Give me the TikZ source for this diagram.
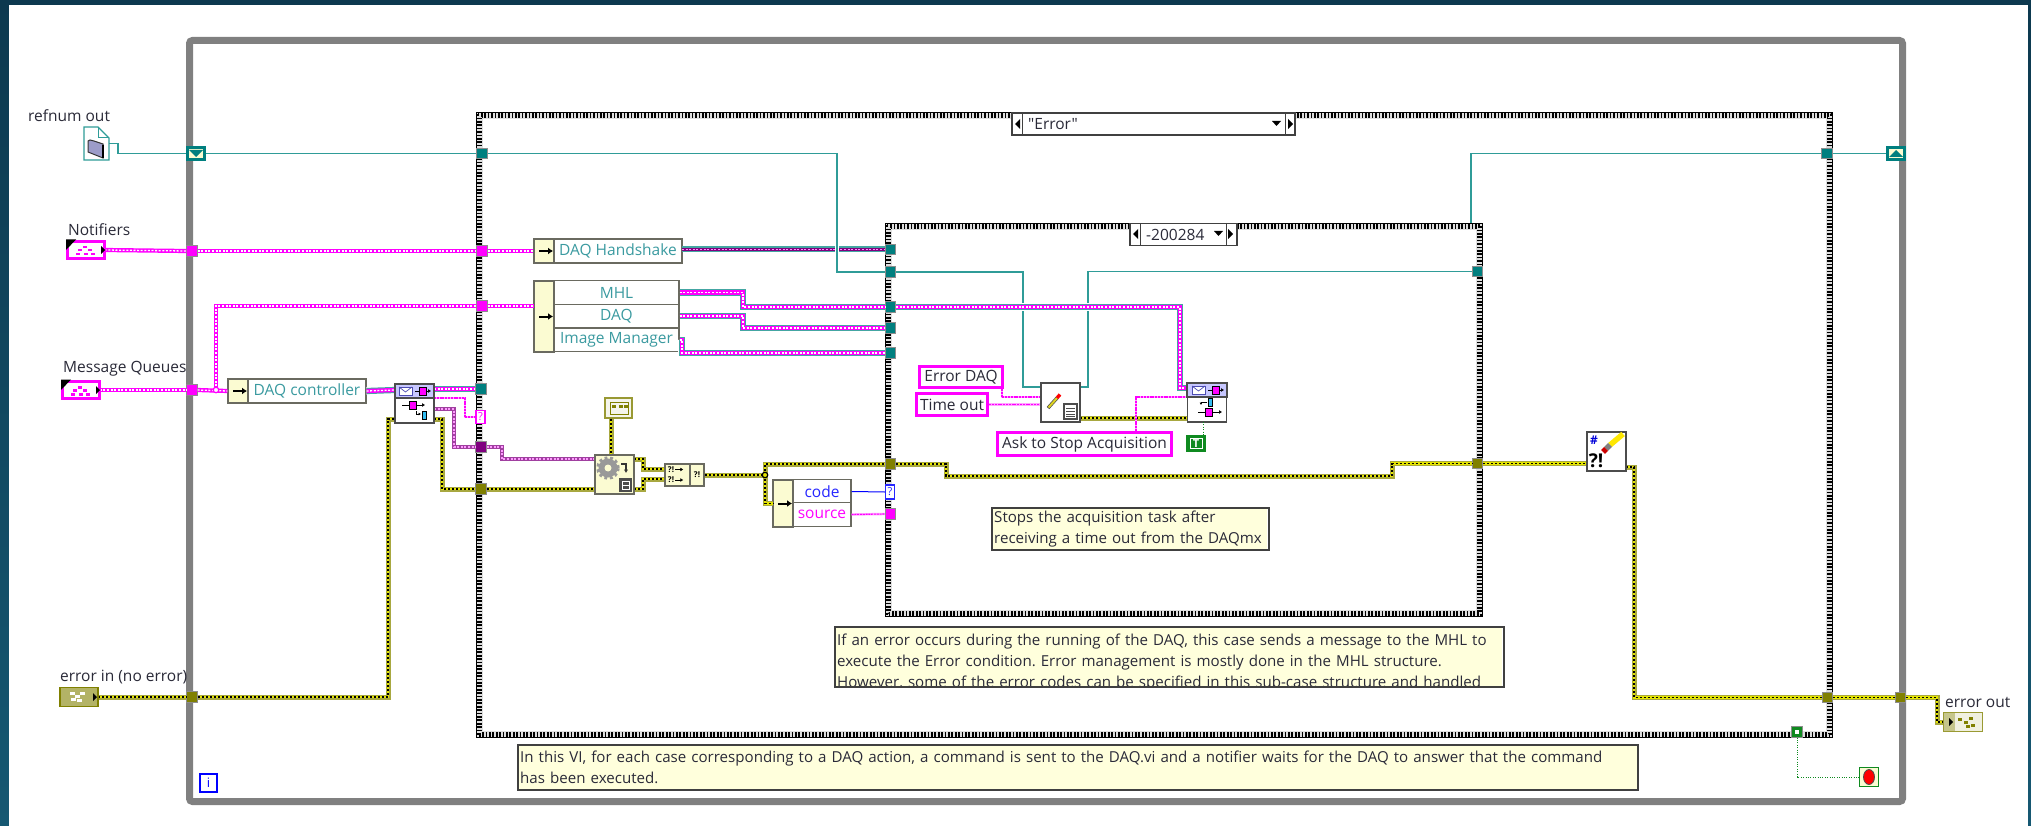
\documentclass[tikz,border=0pt]{standalone}
\usepackage{fontspec}
\setmainfont{Open Sans}[Ligatures=TeXOff]
\usetikzlibrary{arrows.meta}
\definecolor{loopgray}{HTML}{808080}
\definecolor{refteal}{HTML}{2F9C98}
\definecolor{tealfill}{HTML}{007F7F}
\definecolor{tealtext}{HTML}{3A9AA0}
\definecolor{lvpink}{HTML}{FF00FF}
\definecolor{lvpurple}{HTML}{800080}
\definecolor{lvolive}{HTML}{808000}
\definecolor{wireyel}{HTML}{E6E600}
\definecolor{wireedge}{HTML}{A8A840}
\definecolor{paleyel}{HTML}{FBFBD2}
\definecolor{notefill}{HTML}{FFFFDC}
\definecolor{boxedge}{HTML}{6A6A60}
\definecolor{textdark}{HTML}{2A2A38}
\definecolor{lvgreen}{HTML}{0F8A20}
\begin{document}
\frenchspacing
\begin{tikzpicture}[
  x=1pt, y=-1pt,
  refwire/.style={draw=refteal, line width=1.3pt},
  halowire/.style={refwire, preaction={draw=white, line width=4.5pt}},
  errwire/.style={draw=black, line width=1.8pt, dash pattern=on 2pt off 2pt,
    preaction={draw=wireedge, solid, line width=5pt},
    preaction={draw=wireyel, solid, line width=2.8pt}},
  pinkwire/.style={draw=white, line width=1.3pt, dash pattern=on 2pt off 1.6pt,
    preaction={draw=lvpink, solid, line width=4.2pt}},
  purpwire/.style={draw=white!60!lvpink, line width=1.1pt, dash pattern=on 2pt off 1.6pt,
    preaction={draw=lvpurple!75, solid, line width=4.2pt}},
  quwire/.style={draw=white, line width=1.3pt, dash pattern=on 2pt off 1.6pt,
    preaction={draw=white, solid, line width=8pt},
    preaction={draw=refteal!90, solid, line width=6.2pt},
    preaction={draw=lvpink, solid, line width=4.2pt}},
  hswire/.style={draw=white!55!lvpink, line width=1pt, dash pattern=on 2pt off 1.6pt,
    preaction={draw=refteal!90, solid, line width=6pt},
    preaction={draw=lvpurple, solid, line width=3.6pt}},
  strwire/.style={draw=lvpink, line width=1.1pt, dash pattern=on 2pt off .8pt,
    preaction={draw=lvpink!35, solid, line width=2.4pt}},
  boolwire/.style={draw=lvgreen, line width=.9pt, dash pattern=on 1pt off 1.4pt},
  tunnel/.style={rectangle, draw=loopgray!90, line width=.8pt, inner sep=0pt, minimum width=10.5pt, minimum height=10.5pt},
  cellbox/.style={rectangle, draw=boxedge, line width=1.2pt, inner sep=0pt, fill=paleyel},
  namebox/.style={rectangle, draw=boxedge, line width=1.2pt, inner sep=0pt, fill=white, font=\fontsize{15.5}{17}\selectfont, text=tealtext},
  iconbox/.style={rectangle, draw=black!70, line width=1.3pt, inner sep=0pt, fill=white, minimum width=39pt, minimum height=39pt},
  strconst/.style={rectangle, draw=lvpink, line width=3.4pt, inner sep=0pt, fill=white, text=textdark, font=\fontsize{15.5}{17}\selectfont},
  lbl/.style={font=\fontsize{15.5}{17}\selectfont, text=textdark, inner sep=0pt},
  note/.style={rectangle, fill=notefill, inner sep=0pt, align=left, text=textdark, font=\fontsize{15.1}{21}\selectfont},
  notebd/.style={draw=black!75, line width=1.2pt},
  cellarrow/.style={-{Latex[length=5pt,width=7pt]}, line width=2pt, black},
  tinyarrow/.style={-{Latex[length=3pt,width=4pt]}, line width=.9pt, black},
  queuebit/.style={rectangle, draw=black, fill=lvpink, line width=.7pt, inner sep=0pt},
  junct/.style={circle, inner sep=0pt, minimum size=5.5pt, line width=1.2pt}
]
\useasboundingbox (0,0) rectangle (2031,826);
\shade[top color={rgb,255:red,13;green,57;blue,79}, bottom color={rgb,255:red,22;green,88;blue,114}] (0,0) rectangle (2031,826);
\fill[white] (9,5) rectangle (2028,826);

\draw[loopgray, line width=7pt, rounded corners=3pt] (189.5,40.5) rectangle (1902.5,801.5);
\foreach \xa/\ya/\xb/\yb in {476/112/1833/738, 885/223/1483/617} {
  \draw[gray!25, line width=7pt] (\xa+3.5,\ya+3.5) rectangle (\xb-3.5,\yb-3.5);
  \draw[black, line width=1.7pt, dash pattern=on 1.7pt off 1.7pt] (\xa+2.2,\ya+2.2) rectangle (\xb-2.2,\yb-2.2);
  \draw[black, line width=1.7pt, dash pattern=on 1.7pt off 1.7pt, dash phase=1.7pt] (\xa+3.9,\ya+3.9) rectangle (\xb-3.9,\yb-3.9);
  \draw[black, line width=1.7pt, dash pattern=on 1.7pt off 1.7pt] (\xa+5.6,\ya+5.6) rectangle (\xb-5.6,\yb-5.6);
  \draw[black, line width=1.3pt] (\xa+.6,\ya+.6) rectangle (\xb-.6,\yb-.6);
}

\node[lbl, anchor=west] (lblRef) at (28,116) {refnum out};
\node[lbl, anchor=west] (lblNot) at (68,230) {Notifiers};
\node[lbl, anchor=west] (lblQue) at (63,369) {Message Queues};
\node[lbl, anchor=west] (lblErrIn) at (60,677) {error in (no error)};
\node[lbl, anchor=west] (lblErrOut) at (1945,702) {error out};

\node[inner sep=0pt, minimum width=25pt, minimum height=33pt] (refnum) at (96.5,143.5) {};
\draw[refteal, line width=1.2pt, fill=white] (84,127) -- (98,127) -- (109,138) -- (109,160) -- (84,160) -- cycle;
\draw[refteal, line width=1pt] (98,127) -- (98,138) -- (109,138);
\draw[black!80, fill=blue!30!gray!60, line width=1pt] (88,141) -- (90,140) -- (94,141) -- (103,144) -- (103,158) -- (88,152) -- cycle;
\draw[black, line width=1.5pt] (103,145) -- (103,158);

\node[rectangle, inner sep=0pt, minimum width=37pt, minimum height=17pt] (ctlNot) at (86,250) {};
\node[rectangle, inner sep=0pt, minimum width=37pt, minimum height=17pt] (ctlQue) at (81,390) {};
\node[rectangle, inner sep=0pt, minimum width=38pt, minimum height=19pt] (errIn) at (79,697) {};
\node[rectangle, inner sep=0pt, minimum width=39pt, minimum height=19pt] (errOut) at (1963,722) {};

\node[cellbox, minimum width=20pt, minimum height=24pt] (hsArrow) at (544,251) {};
\node[namebox, minimum width=128pt, minimum height=24pt] (hsName) at (618,251) {DAQ Handshake};
\node[cellbox, minimum width=20pt, minimum height=71pt] (ubqArrow) at (544,316.5) {};
\node[namebox, minimum width=125pt, minimum height=23.5pt] (rowMHL) at (616.5,292.5) {MHL};
\node[namebox, minimum width=125pt, minimum height=23.5pt] (rowDAQ) at (616.5,316) {DAQ};
\node[namebox, minimum width=125pt, minimum height=23.5pt] (rowImg) at (616.5,340) {Image Manager};
\node[cellbox, minimum width=20pt, minimum height=24pt] (dcArrow) at (238,391) {};
\node[namebox, minimum width=118pt, minimum height=24pt] (dcName) at (307,391) {DAQ controller};
\node[cellbox, minimum width=20pt, minimum height=47pt] (ubeArrow) at (783,503.5) {};
\node[namebox, minimum width=58pt, minimum height=23.5pt, text=blue!85!white] (rowCode) at (822,491.5) {code};
\node[namebox, minimum width=58pt, minimum height=23.5pt, text=lvpink] (rowSrc) at (822,514.5) {source};
\foreach \aname in {hsArrow, ubqArrow, dcArrow, ubeArrow} {
  \draw[cellarrow] ([xshift=3pt]\aname.center) ++(-8,0) -- ++(14,0);
}

\coordinate (ubqIn) at (534,306);
\coordinate (hsOut) at (682,249.5);
\coordinate (mqJoin) at (216,390);
\coordinate (deqQ) at (434,389);
\coordinate (deqS) at (434,398);
\coordinate (deqP) at (434,409);
\coordinate (deqE) at (434,419);
\coordinate (deqIn) at (395,390);
\coordinate (deqEin) at (395,419);
\coordinate (gearP) at (595,459);
\coordinate (gearE) at (595,489);
\coordinate (gearA) at (634,459);
\coordinate (gearB) at (634,489);
\coordinate (mergeA) at (665,469);
\coordinate (mergeB) at (665,479);
\coordinate (errJoin) at (765,475);
\coordinate (ubeIn) at (773,503.5);
\coordinate (wrRefA) at (1041,387);
\coordinate (wrRefB) at (1080,387);
\coordinate (wrStrA) at (1041,397);
\coordinate (wrStrB) at (1041,404.5);
\coordinate (wrErr) at (1080,418);
\coordinate (enqQ) at (1187,388);
\coordinate (enqS) at (1187,397);
\coordinate (enqE) at (1187,418);
\coordinate (enqB) at (1203,422);
\coordinate (askOut) at (1136,431);
\coordinate (edOut) at (1002,389);
\coordinate (innerTop) at (1471,223);
\coordinate (clearIn) at (1587,463.5);
\coordinate (clearOut) at (1626,467);
\coordinate (gearTop) at (611,455);

\node[tunnel, fill=lvpink] (tNotA) at (192,251) {};
\node[tunnel, fill=lvpink] (tNotB) at (482,251) {};
\node[tunnel, fill=lvpink] (tQueB) at (482,306) {};
\node[tunnel, fill=lvpink] (tQueA) at (192,390) {};
\node[tunnel, fill=tealfill] (tRefOut) at (482,153.5) {};
\node[tunnel, fill=tealfill] (tRefIn) at (890.5,272) {};
\node[tunnel, fill=tealfill] (tHS) at (890.5,249.5) {};
\node[tunnel, fill=tealfill] (tMHL) at (890.5,307) {};
\node[tunnel, fill=tealfill] (tDAQ) at (890.5,328) {};
\node[tunnel, fill=tealfill] (tImg) at (890.5,353) {};
\node[tunnel, fill=tealfill] (tDeqQ) at (481,389) {};
\node[tunnel, fill=lvpurple] (tPurp) at (481,447) {};
\node[tunnel, fill=lvolive] (tErr) at (481,489) {};
\node[tunnel, fill=lvolive] (tErrIn) at (192,697) {};
\node[tunnel, fill=lvolive] (tErrA) at (890.5,464) {};
\node[tunnel, fill=lvolive] (tErrB) at (1477.5,463.5) {};
\node[tunnel, fill=lvolive] (tErrC) at (1827.5,697.5) {};
\node[tunnel, fill=lvolive] (tErrD) at (1900.5,697.5) {};
\node[tunnel, fill=lvpink] (tSrc) at (890.5,514) {};
\node[tunnel, fill=tealfill] (tRefBack) at (1477.5,271.5) {};
\node[tunnel, fill=tealfill] (tRefTop) at (1827,153.5) {};
\node[tunnel, fill=lvgreen] (tBool) at (1797,732) {};
\fill[white] (1795,730) rectangle (1799,734);
\node[rectangle, draw=lvpink, line width=1.3pt, fill=white, inner sep=0pt, minimum width=9pt, minimum height=13pt, text=lvpink, font=\fontsize{11}{12}\selectfont] (tStrQ) at (480.5,417) {?};
\node[rectangle, draw=blue!85!white, line width=1.3pt, fill=white, inner sep=0pt, minimum width=9pt, minimum height=14pt, text=blue!85!white, font=\fontsize{11}{12}\selectfont] (tCode) at (890,492) {?};

\node[rectangle, draw=tealfill, line width=2.6pt, fill=paleyel, inner sep=0pt, minimum width=17pt, minimum height=11.5pt] (srLeft) at (196,153.5) {};
\fill[tealfill] (189,150) -- (203,150) -- (196,157) -- cycle;
\node[rectangle, draw=tealfill, line width=2.6pt, fill=paleyel, inner sep=0pt, minimum width=17pt, minimum height=11.5pt] (srRight) at (1896,153.5) {};
\fill[tealfill] (1889,157) -- (1903,157) -- (1896,150) -- cycle;

\draw[refwire] (refnum.east) -- (118,143.5) |- (srLeft.west);
\draw[refwire] (srLeft.east) -- (tRefOut.west);
\draw[hswire] (hsOut) -- (tHS.west);
\draw[halowire] (tRefOut.east) -- (837,153.5) |- (tRefIn.west);
\draw[refwire] (tRefIn.east) -- (1023,272) |- (wrRefA);
\draw[refwire] (wrRefB) -- (1088,387) |- (tRefBack.west);
\draw[refwire] (innerTop) |- (tRefTop.west);
\draw[refwire] (tRefTop.east) -- (srRight.west);

\draw[pinkwire] (ctlNot.east) -- (tNotA.west);
\draw[pinkwire] (tNotA.east) -- (tNotB.west);
\draw[pinkwire] (tNotB.east) -- (hsArrow.west);
\draw[pinkwire] (ctlQue.east) -- (tQueA.west);
\draw[pinkwire] (tQueA.east) -- (dcArrow.west);
\draw[pinkwire] (mqJoin) |- (tQueB.west);
\draw[pinkwire] (tQueB.east) -- (ubqIn);
\node[junct, draw=lvpink, fill=white] (mqDot) at (mqJoin) {};

\draw[quwire] (dcName.east) -- (deqIn);
\draw[quwire] (deqQ) -- (tDeqQ.west);
\draw[quwire] (rowMHL.east) -- (743,292.5) |- (tMHL.west);
\draw[quwire] (tMHL.east) -- (1180,307) |- (enqQ);
\draw[quwire] (rowDAQ.east) -- (743,316) |- (tDAQ.west);
\draw[quwire] (rowImg.east) -- (682,340) |- (tImg.west);

\draw[strwire] (deqS) -- (465,398) |- (tStrQ.west);
\draw[strwire] (rowSrc.east) -- (tSrc.west);
\draw[blue, line width=1pt] (rowCode.east) -- (tCode.west);
\draw[purpwire] (deqP) -- (454,409) |- (tPurp.west);
\draw[purpwire] (tPurp.east) -- (502,447) |- (gearP);

\draw[errwire] (errIn.east) -- (tErrIn.west);
\draw[errwire] (tErrIn.east) -- (388,697) |- (deqEin);
\draw[errwire] (deqE) -- (442,419) |- (tErr.west);
\draw[errwire] (tErr.east) -- (gearE);
\draw[errwire] (gearA) -- (643,459) |- (mergeA);
\draw[errwire] (gearB) -- (643,489) |- (mergeB);
\draw[errwire] (errJoin) |- (tErrA.west);
\draw[errwire] (errJoin) |- (ubeIn);
\draw[errwire] (tErrA.east) -- (946,464) |- (1392,476) |- (tErrB.west);
\draw[errwire] (tErrB.east) -- (clearIn);
\draw[errwire] (clearOut) -- (1634,467) |- (tErrC.west);
\draw[errwire] (tErrC.east) -- (tErrD.west);
\draw[errwire] (tErrD.east) -- (1937,697.5) |- (errOut.west);
\draw[errwire] (wrErr) -- (enqE);

\foreach \cx/\cy in {86/250, 81/390} {
  \draw[lvpink, line width=2.4pt, fill=white] (\cx-18.5,\cy-8.5) rectangle (\cx+18.5,\cy+8.5);
  \fill[black] (\cx-20,\cy-10.5) -- (\cx-10,\cy-10.5) -- (\cx-20,\cy) -- cycle;
  \fill[black] (\cx+15,\cy-4) -- (\cx+19,\cy) -- (\cx+15,\cy+4) -- cycle;
  \foreach \dx/\dy in {-8/-1,-3/-4,2/-1,5/3,-10/3,-2/3} {\fill[lvpink] (\cx+\dx,\cy+\dy) rectangle +(4,2.5);}
}
\draw[lvolive, line width=1.2pt, fill=lvolive!60] (60,687.5) rectangle (98,706.5);
\foreach \dx/\dy in {-9/-5,-4/-2,1/-5,-8/1,-2/2} {\fill[white] (79+\dx,697+\dy) rectangle +(5,3);}
\fill[black] (93,693) -- (97,697) -- (93,701) -- cycle;
\draw[lvolive!80, line width=1.3pt, fill=lvolive!12] (1943.5,712.5) rectangle (1982.5,731.5);
\fill[lvolive!45] (1944,713) rectangle (1955,731);
\fill[black] (1949,718) -- (1953,722) -- (1949,726) -- cycle;
\foreach \dx/\dy in {-5/-4,1/-1,6/-5,8/2,3/3} {\fill[lvolive] (1963+\dx,722+\dy) rectangle +(4,2.5);}

\node[cellbox, minimum width=25pt, minimum height=22pt] (mergeL) at (677.5,475) {};
\node[cellbox, minimum width=14pt, minimum height=22pt, font=\bfseries\fontsize{8}{9}\selectfont] (mergeR) at (697,475) {?!};
\node[font=\bfseries\fontsize{8}{9}\selectfont, inner sep=0pt] (mergeTop) at (671,469.5) {?!};
\node[font=\bfseries\fontsize{8}{9}\selectfont, inner sep=0pt] (mergeBot) at (671,480) {?!};
\draw[tinyarrow] (mergeTop.east) ++(1,0) -- ++(8,0);
\draw[tinyarrow] (mergeBot.east) ++(1,0) -- ++(8,0);
\draw[errwire] (mergeR.east) -- (errJoin);
\node[junct, draw=black, fill=wireyel] (errDot) at (errJoin) {};

\node[rectangle, draw=lvolive!80, line width=1.3pt, fill=lvolive!8, inner sep=0pt, minimum width=27pt, minimum height=20pt] (errInd) at (618.5,408) {};
\draw[lvolive, line width=.8pt] (610,402) rectangle (628,414);
\foreach \dx in {612,619,624} {\fill[lvolive] (\dx,405) rectangle +(4,3);}
\draw[errwire] (errInd.south -| gearTop) -- (gearTop);

\node[iconbox, fill=paleyel, draw=boxedge] (gearBox) at (614.5,474.5) {};
\draw[gray!80, line width=3.5pt, dash pattern=on 2.8pt off 2.6pt] (608,468) circle (10pt);
\fill[gray!80] (608,468) circle (9.5pt);
\fill[paleyel] (608,468) circle (3.5pt);
\draw[black!80, line width=1.6pt, -{Latex[length=3.5pt,width=4.5pt]}] (621,464) -- (626,464) -- (626,473);
\fill[black!70] (619,478) rectangle (632,492);
\draw[white, line width=1pt] (622,481) rectangle (629,489);
\draw[white, line width=1pt] (622,485) -- (629,485);

\draw[strwire] (edOut) |- (wrStrA);
\draw[strwire] (askOut) |- (enqS);
\node[strconst, minimum width=83pt, minimum height=21pt] (errDaq) at (961,377) {Error DAQ};
\node[strconst, minimum width=71pt, minimum height=22pt] (timeC) at (952,404.5) {Time out};
\node[strconst, minimum width=174pt, minimum height=23pt] (askC) at (1084.5,444) {Ask to Stop Acquisition};
\draw[strwire] (timeC.east) -- (wrStrB);

\node[iconbox] (writeIcon) at (1060.5,402.5) {};
\draw[black!70, line width=3.4pt] (1048,408) -- (1057,398);
\draw[yellow!85!black, line width=2pt] (1048.5,407.5) -- (1057,398);
\draw[red, line width=3.4pt] (1057,398) -- (1060,394.5);
\fill[black!70] (1063,403) rectangle (1078,420);
\fill[white] (1065,405) rectangle (1076,418);
\foreach \ly in {408,411,414,416.5} {\draw[black!70, line width=.8pt] (1066,\ly) -- (1075,\ly);}

\node[iconbox, draw=black!70] (deqBox) at (414.5,403.5) {};
\fill[blue!22!white, draw=black!70, line width=1.2pt] (395,384) rectangle (434,398);
\node[iconbox, draw=black!70] (enqBox) at (1207,402.5) {};
\fill[blue!22!white, draw=black!70, line width=1.2pt] (1187,383) rectangle (1227,397);
\foreach \ex/\ey in {398/387, 1191/386} {
  \draw[blue!40!gray, fill=white, line width=.9pt] (\ex+1,\ey) rectangle +(13,8);
  \draw[blue!40!gray, line width=.7pt] (\ex+1,\ey) -- (\ex+7.5,\ey+5) -- (\ex+14,\ey);
  \draw[tinyarrow] (\ex+17,\ey+4) -- (\ex+33,\ey+4);
  \node[queuebit, minimum width=7pt, minimum height=8pt] at (\ex+25,\ey+4) {};
}
\draw[tinyarrow] (402,405) -- (425,405);
\node[queuebit, minimum width=7pt, minimum height=8pt] (deqBit) at (413,405) {};
\draw[black, line width=.8pt, -{Latex[length=2.5pt,width=3pt]}] (416,411) -- (416,414) -- (421,414);
\node[rectangle, draw=black, fill=cyan!80, line width=.7pt, inner sep=0pt, minimum width=4pt, minimum height=8pt] (deqCy) at (424,415) {};
\draw[tinyarrow] (1198,412) -- (1222,412);
\node[queuebit, minimum width=7pt, minimum height=8pt] (enqBit) at (1209,412) {};
\node[rectangle, draw=black, fill=cyan!80, line width=.7pt, inner sep=0pt, minimum width=4pt, minimum height=8pt] (enqCy) at (1210,402) {};
\draw[black, line width=.8pt, -{Latex[length=2.5pt,width=3pt]}] (1207,402) -- (1201,402) -- (1201,405);

\draw[boolwire] (enqB) -- (enqB |- 0,435);
\node[rectangle, draw=lvgreen, line width=2pt, fill=lvgreen, inner sep=0pt, minimum width=18pt, minimum height=15pt, text=white, font=\bfseries\fontsize{11}{12}\selectfont] (trueC) at (1196,443.5) {T};
\draw[white, line width=.8pt] (1190,438.5) rectangle (1202,448.5);
\draw[boolwire] (tBool.south) |- (1859,777);
\node[rectangle, draw=lvgreen, line width=1pt, fill=paleyel, inner sep=0pt, minimum width=19pt, minimum height=19pt] (stopBtn) at (1869,777) {};
\fill[red, draw=black!70, line width=.8pt] (1869,777) ellipse (5.5pt and 7.5pt);

\node[iconbox] (clearIcon) at (1606.5,451.5) {};
\node[font=\bfseries\fontsize{12}{13}\selectfont, text=blue!85!black, inner sep=0pt] (clearHash) at (1594,440) {\#};
\node[font=\bfseries\fontsize{19}{20}\selectfont, inner sep=0pt] (clearMark) at (1596,461) {?!};
\draw[yellow!90!orange, line width=5.5pt] (1610,445) -- (1623,434);
\draw[gray, line width=5.5pt] (1606,449) -- (1610,445);
\draw[red!80!black, line width=5.5pt] (1603,452) -- (1606,449);

\node[rectangle, draw=blue, line width=1.6pt, fill=white, inner sep=0pt, minimum width=17pt, minimum height=18pt, text=blue, font=\fontsize{13}{14}\selectfont] (iterBox) at (208.5,783) {i};

\node[rectangle, draw=black!75, line width=1.1pt, fill=white, inner sep=0pt, minimum width=283pt, minimum height=22pt] (selBig) at (1153.5,124) {};
\draw[black!75, line width=1pt] (1022,113) -- (1022,135) (1285,113) -- (1285,135);
\node[lbl, anchor=west] (selBigTxt) at (1028,124) {"Error"};
\fill[black] (1020,119) -- (1020,129) -- (1015,124) -- cycle;
\fill[black] (1288,119) -- (1288,129) -- (1293,124) -- cycle;
\fill[black] (1272,121) -- (1281,121) -- (1276.5,126) -- cycle;
\node[rectangle, draw=black!75, line width=1.1pt, fill=white, inner sep=0pt, minimum width=107pt, minimum height=22pt] (selIn) at (1183.5,234.5) {};
\draw[black!75, line width=1pt] (1140,223) -- (1140,246) (1226,223) -- (1226,246);
\node[lbl, anchor=west] (selInTxt) at (1146,235) {-200284};
\fill[black] (1138,229) -- (1138,239) -- (1133,234) -- cycle;
\fill[black] (1228,229) -- (1228,239) -- (1233,234) -- cycle;
\fill[black] (1214,231) -- (1223,231) -- (1218.5,236) -- cycle;

\begin{scope}
\clip (992,508) rectangle (1269,550);
\node[note, text width=275pt, minimum height=42pt, anchor=north west] (noteStop) at (992,508) {\hspace*{2pt}Stops the acquisition task after\\\hspace*{2pt}receiving a time out from the DAQmx};
\end{scope}
\draw[notebd] (992,508) rectangle (1269,550);
\begin{scope}
\clip (835,627) rectangle (1504,687);
\node[note, text width=667pt, minimum height=70pt, anchor=north west] (noteErr) at (835,627) {\hspace*{2pt}If an error occurs during the running of the DAQ, this case sends a message to the MHL to\\\hspace*{2pt}execute the Error condition. Error management is mostly done in the MHL structure.\\\hspace*{2pt}However, some of the error codes can be specified in this sub-case structure and handled};
\end{scope}
\draw[notebd] (835,627) rectangle (1504,687);
\node[note, text width=1120pt, minimum height=45pt, anchor=north west] (noteVi) at (518,745) {\hspace*{2pt}In this VI, for each case corresponding to a DAQ action, a command is sent to the DAQ.vi and a notifier waits for the DAQ to answer that the command\\\hspace*{2pt}has been executed.};
\draw[notebd] (518,745) rectangle (1638,790);
\end{tikzpicture}
\end{document}
